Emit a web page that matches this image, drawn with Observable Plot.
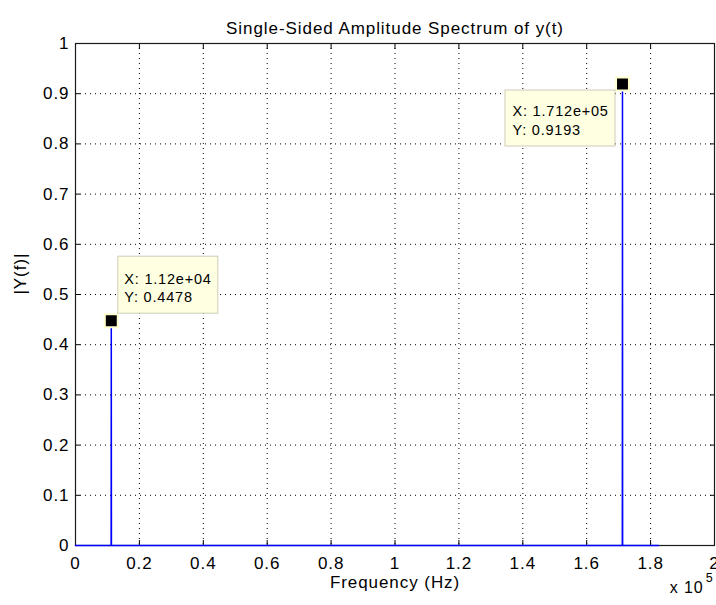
<!DOCTYPE html>
<html><head><meta charset="utf-8">
<script src="https://cdn.jsdelivr.net/npm/d3@7"></script>
<script src="https://cdn.jsdelivr.net/npm/@observablehq/plot@0.6"></script>
<style>html,body{margin:0;padding:0;background:#fff;} svg{display:block;} svg text{letter-spacing:0.055em;}</style>
</head><body><div id="chart"></div>
<script>
const title = "Single-Sided Amplitude Spectrum of y(t)";
const xLabel = "Frequency (Hz)";
const yLabel = "|Y(f)|";
const xExponentBase = "x 10";
const xExponent = "5";
const xTicks = [0, 20000, 40000, 60000, 80000, 100000, 120000, 140000, 160000, 180000, 200000];
const xTickLabels = ["0", "0.2", "0.4", "0.6", "0.8", "1", "1.2", "1.4", "1.6", "1.8", "2"];
const yTicks = [0, 0.1, 0.2, 0.3, 0.4, 0.5, 0.6, 0.7, 0.8, 0.9, 1];
const yTickLabels = ["0", "0.1", "0.2", "0.3", "0.4", "0.5", "0.6", "0.7", "0.8", "0.9", "1"];
// spectrum samples (Hz, amplitude)
const freq = [0, 11150, 11200, 11250, 171150, 171200, 171250, 182500];
const amp  = [0, 0, 0.4478, 0, 0, 0.9193, 0, 0];
// data tips
const tipFreq = [11200, 171200];
const tipAmp = [0.4478, 0.9193];
const tipLabels = ["X: 1.12e+04\nY: 0.4478", "X: 1.712e+05\nY: 0.9193"];

const spectrum = freq.map((f, i) => ({f, a: amp[i]}));
const tips = tipFreq.map((f, i) => ({f, a: tipAmp[i], label: tipLabels[i]}));
const xMap = new Map(xTicks.map((t, i) => [t, xTickLabels[i]]));
const yMap = new Map(yTicks.map((t, i) => [t, yTickLabels[i]]));

const font = "'Liberation Sans', Arial, Helvetica, sans-serif";
const fs = 17;
const tipFs = 14.5;

const chart = Plot.plot({
  width: 716,
  height: 605,
  marginLeft: 75,
  marginRight: 2,
  marginTop: 43,
  marginBottom: 60,
  style: {fontFamily: font, fontSize: fs + "px", background: "#fff", color: "#000"},
  x: {domain: [0, 200000], ticks: xTicks},
  y: {domain: [0, 1], ticks: yTicks},
  marks: [
    Plot.gridX(xTicks, {stroke: "#000", strokeOpacity: 1, strokeWidth: 1, strokeDasharray: "1,4"}),
    Plot.gridY(yTicks, {stroke: "#000", strokeOpacity: 1, strokeWidth: 1, strokeDasharray: "1,4"}),
    Plot.axisX(xTicks, {anchor: "bottom", tickSize: 0, tickPadding: 11, tickFormat: d => xMap.get(d), label: null, fontSize: fs}),
    Plot.axisX(xTicks, {anchor: "bottom", tickSize: -5, tickFormat: () => "", label: null}),
    Plot.axisX(xTicks, {anchor: "top", tickSize: -5, tickFormat: () => "", label: null}),
    Plot.axisY(yTicks, {anchor: "left", tickSize: 0, tickPadding: 6, tickFormat: d => yMap.get(d), label: null, fontSize: fs}),
    Plot.axisY(yTicks, {anchor: "left", tickSize: -5, tickFormat: () => "", label: null}),
    Plot.axisY(yTicks, {anchor: "right", tickSize: -5, tickFormat: () => "", label: null}),
    Plot.frame({stroke: "#1a1a1a", strokeWidth: 1.2}),
    Plot.line(spectrum, {x: "f", y: "a", stroke: "#0000ff", strokeWidth: 1.5}),
    Plot.dot(tips, {x: "f", y: "a", symbol: "square", r: 7.3, fill: "#000", stroke: "#ffffd0", strokeWidth: 2}),
    // data tip 1 box (above-right)
    Plot.rect(tips.slice(0, 1), {x1: "f", x2: "f", y1: "a", y2: "a", insetLeft: 7, insetRight: -107, insetTop: -64, insetBottom: 7, fill: "#ffffe1", stroke: "#cdcdbd", strokeWidth: 1}),
    Plot.text(tips.slice(0, 1), {x: "f", y: "a", text: "label", textAnchor: "start", lineAnchor: "top", dx: 13, dy: -50.5, fontSize: tipFs, lineHeight: 1.3, fill: "#000"}),
    // data tip 2 box (below-left)
    Plot.rect(tips.slice(1, 2), {x1: "f", x2: "f", y1: "a", y2: "a", insetLeft: -117, insetRight: 7, insetTop: 6.5, insetBottom: -62.5, fill: "#ffffe1", stroke: "#cdcdbd", strokeWidth: 1}),
    Plot.text(tips.slice(1, 2), {x: "f", y: "a", text: "label", textAnchor: "start", lineAnchor: "top", dx: -110, dy: 19, fontSize: tipFs, lineHeight: 1.3, fill: "#000"}),
    // titles
    Plot.text([title], {frameAnchor: "top", dy: -22, fontSize: fs, fill: "#000"}),
    Plot.text([xLabel], {frameAnchor: "bottom", dy: 42, fontSize: fs, fill: "#000"}),
    Plot.text([yLabel], {frameAnchor: "left", dx: -55, rotate: -90, fontSize: fs, fill: "#000"}),
    Plot.text([xExponentBase], {frameAnchor: "bottom-right", textAnchor: "end", dx: -11, dy: 47, fontSize: 16, fill: "#000"}),
    Plot.text([xExponent], {frameAnchor: "bottom-right", textAnchor: "end", dx: -1, dy: 36, fontSize: 12.5, fill: "#000"})
  ]
});
document.getElementById("chart").appendChild(chart);
</script>
</body></html>
